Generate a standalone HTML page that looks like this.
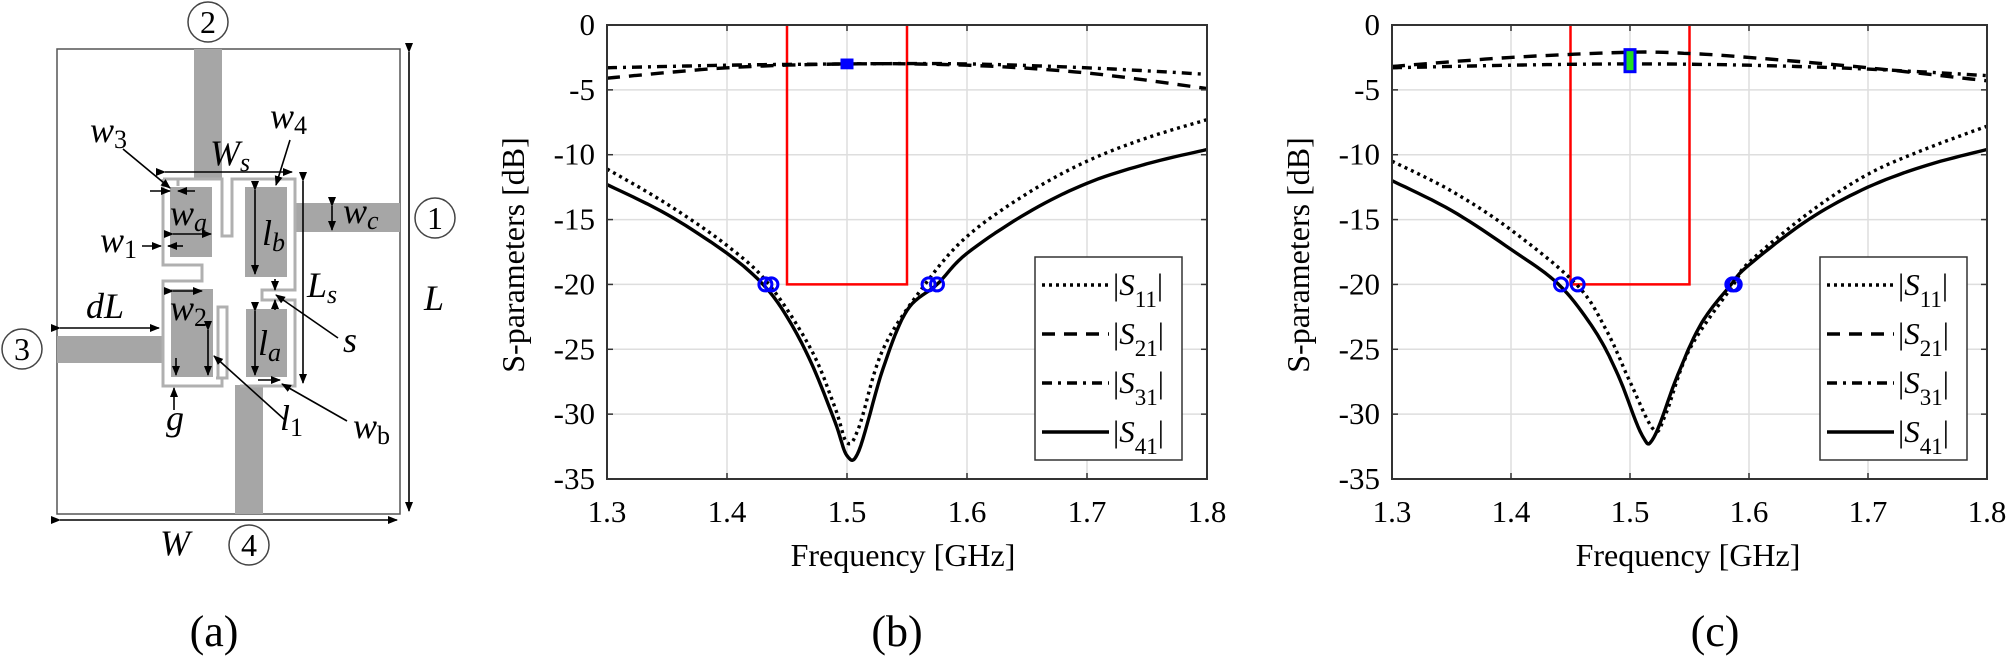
<!DOCTYPE html>
<html><head><meta charset="utf-8">
<style>
html,body{margin:0;padding:0;background:#fff;}
svg{display:block;}
svg, svg text, svg tspan{font-family:"Liberation Serif","Times New Roman","DejaVu Serif",serif;}
text{fill:#000;}
.it{font-style:italic;}
</style></head>
<body>
<svg id="s" width="2006" height="666" viewBox="0 0 2006 666" xmlns="http://www.w3.org/2000/svg" font-family="Liberation Serif, Times New Roman, serif">
<defs>
<marker id="ah" markerWidth="10" markerHeight="10" refX="9" refY="5" orient="auto" markerUnits="userSpaceOnUse">
<path d="M0,1 L10,5 L0,9 Z" fill="#000"/></marker>
</defs>
<g>
<rect x="57" y="49" width="343" height="465" fill="none" stroke="#555" stroke-width="1.5"/>
<rect x="194" y="49" width="28" height="130" fill="#a6a6a6"/>
<rect x="295" y="203" width="105" height="29" fill="#a6a6a6"/>
<rect x="57" y="336" width="105" height="27" fill="#a6a6a6"/>
<rect x="235" y="385" width="28" height="129" fill="#a6a6a6"/>
<g fill="none" stroke="#b0b0b0" stroke-width="3">
<path d="M163,179 L163,265 L202,265 L202,281 L163,281 L163,386 L222,386 L222,378 L216,378"/>
<path d="M163,179 L178,179 L178,186 M178,179 L222,179 L222,236 L232,236 L232,179 L295,179 L295,290 L262,290 L262,300 L295,300 L295,386 L240,386"/>
<path d="M218,307 L218,378 L227,378 L227,307 Z"/>
</g>
<rect x="170" y="187" width="42" height="70" fill="#a6a6a6"/>
<rect x="245" y="187" width="42" height="90" fill="#a6a6a6"/>
<rect x="171" y="289" width="42" height="88" fill="#a6a6a6"/>
<rect x="246" y="309" width="41" height="68" fill="#a6a6a6"/>
<g stroke="#000" stroke-width="1.6" fill="none">
<line x1="409" y1="52" x2="409" y2="511" marker-end="url(#ah)" marker-start="url(#ah)"/>
<line x1="60" y1="520" x2="397" y2="520" marker-end="url(#ah)" marker-start="url(#ah)"/>
<line x1="165" y1="172" x2="292" y2="172" marker-end="url(#ah)" marker-start="url(#ah)"/>
<line x1="303" y1="181" x2="303" y2="383" marker-end="url(#ah)" marker-start="url(#ah)"/>
<line x1="60" y1="328" x2="159" y2="328" marker-end="url(#ah)" marker-start="url(#ah)"/>
<line x1="123" y1="149" x2="170" y2="188" marker-end="url(#ah)"/>
<line x1="150" y1="191" x2="170" y2="191" marker-end="url(#ah)"/>
<line x1="195" y1="191" x2="178" y2="191" marker-end="url(#ah)"/>
<line x1="290" y1="140" x2="276" y2="185" marker-end="url(#ah)"/>
<line x1="173" y1="234" x2="211" y2="234" marker-end="url(#ah)" marker-start="url(#ah)"/>
<line x1="142" y1="246" x2="161" y2="246" marker-end="url(#ah)"/>
<line x1="183" y1="246" x2="168" y2="246" marker-end="url(#ah)"/>
<line x1="255" y1="190" x2="255" y2="274" marker-end="url(#ah)" marker-start="url(#ah)"/>
<line x1="332" y1="206" x2="332" y2="230" marker-end="url(#ah)" marker-start="url(#ah)"/>
<line x1="173" y1="291" x2="202" y2="291" marker-end="url(#ah)" marker-start="url(#ah)"/>
<line x1="275" y1="279" x2="275" y2="290" marker-end="url(#ah)"/>
<line x1="275" y1="310" x2="275" y2="300" marker-end="url(#ah)"/>
<line x1="338" y1="338" x2="276" y2="295" marker-end="url(#ah)"/>
<line x1="255" y1="311" x2="255" y2="375" marker-end="url(#ah)" marker-start="url(#ah)"/>
<line x1="208" y1="330" x2="208" y2="375" marker-end="url(#ah)" marker-start="url(#ah)"/>
<line x1="176" y1="358" x2="176" y2="375" marker-end="url(#ah)"/>
<line x1="285" y1="420" x2="214" y2="356" marker-end="url(#ah)"/>
<line x1="174" y1="410" x2="174" y2="388" marker-end="url(#ah)"/>
<line x1="347" y1="421" x2="282" y2="384" marker-end="url(#ah)"/>
<line x1="258" y1="380" x2="280" y2="380" marker-end="url(#ah)"/>
</g>
<g fill="none" stroke="#444" stroke-width="1.5">
<circle cx="208" cy="22" r="20"/><circle cx="435" cy="218" r="20"/>
<circle cx="22" cy="349" r="20"/><circle cx="249" cy="545" r="20"/>
</g>
<g font-size="32" text-anchor="middle">
<text x="208" y="33" fill="#444">2</text><text x="435" y="229" fill="#444">1</text>
<text x="22" y="360" fill="#444">3</text><text x="249" y="556" fill="#444">4</text>
</g>
<g font-size="36">
<text x="424" y="310" class="it">L</text>
<text x="160" y="555" class="it">W</text>
<text x="210" y="165" class="it">W<tspan font-size="26" dy="6">s</tspan></text>
<text x="90" y="142" class="it">w<tspan font-size="26" dy="6" font-style="normal">3</tspan></text>
<text x="270" y="128" class="it">w<tspan font-size="26" dy="6" font-style="normal">4</tspan></text>
<text x="170" y="225" class="it">w<tspan font-size="26" dy="6">a</tspan></text>
<text x="100" y="252" class="it">w<tspan font-size="26" dy="6" font-style="normal">1</tspan></text>
<text x="262" y="245" class="it">l<tspan font-size="26" dy="6">b</tspan></text>
<text x="343" y="223" class="it">w<tspan font-size="26" dy="6">c</tspan></text>
<text x="307" y="297" class="it">L<tspan font-size="26" dy="6">s</tspan></text>
<text x="86" y="318" class="it">dL</text>
<text x="170" y="320" class="it">w<tspan font-size="26" dy="6" font-style="normal">2</tspan></text>
<text x="343" y="352" class="it">s</text>
<text x="258" y="355" class="it">l<tspan font-size="26" dy="6">a</tspan></text>
<text x="280" y="430" class="it">l<tspan font-size="26" dy="6" font-style="normal">1</tspan></text>
<text x="166" y="430" class="it">g</text>
<text x="353" y="438" class="it">w<tspan font-size="26" dy="6" font-style="normal">b</tspan></text>
</g>
<text x="214" y="646" font-size="44" text-anchor="middle">(a)</text>
</g>
<g id="pb"></g>
<g id="pc"></g>
</svg>
<script>
var NS="http://www.w3.org/2000/svg";
var FF="Liberation Serif, Times New Roman, serif";
function el(p,t,a,txt){var e=document.createElementNS(NS,t);for(var k in a)e.setAttribute(k,a[k]);if(t=='text')e.setAttribute('font-family',FF);if(txt!==undefined)e.textContent=txt;p.appendChild(e);return e;}
function interp(d){
 var out=[];for(var i=0;i<d.length-1;i++){var p0=d[Math.max(i-1,0)],p1=d[i],p2=d[i+1],p3=d[Math.min(i+2,d.length-1)];
 for(var t=0;t<1;t+=0.1){var t2=t*t,t3=t2*t;
  var f=function(a,b,c,e){return 0.5*((2*b)+(-a+c)*t+(2*a-5*b+4*c-e)*t2+(-a+3*b-3*c+e)*t3);};
  out.push([f(p0[0],p1[0],p2[0],p3[0]),f(p0[1],p1[1],p2[1],p3[1])]);}}
 out.push(d[d.length-1]);return out;}
function panel(g,x0,xw,lab,label,fx,ylx,data,mk,leg){
 var y0=25,y1=479;
 var X=function(f){return x0+(f-1.3)/0.5*xw;},Y=function(v){return y0+(-v)/35*(y1-y0);};
 for(var i=1;i<5;i++){var xx=X(1.3+i*0.1);el(g,'line',{x1:xx,x2:xx,y1:y0,y2:y1,stroke:'#dedede','stroke-width':1.5});}
 for(var j=1;j<7;j++){var yy=Y(-5*j);el(g,'line',{x1:x0,x2:x0+xw,y1:yy,y2:yy,stroke:'#dedede','stroke-width':1.5});}
 el(g,'polyline',{points:X(1.45)+','+y0+' '+X(1.45)+','+Y(-20)+' '+X(1.55)+','+Y(-20)+' '+X(1.55)+','+y0,fill:'none',stroke:'#ff0000','stroke-width':2.5});
 var styles={s11:{'stroke-dasharray':'3,4','stroke-width':3.4},s21:{'stroke-dasharray':'13,9','stroke-width':3.4},s31:{'stroke-dasharray':'10,6,3,6','stroke-width':3.4},s41:{'stroke-width':3.4}};
 ['s21','s31','s11','s41'].forEach(function(k){
  var pts=interp(data[k]).map(function(p){return X(p[0]).toFixed(1)+','+Y(p[1]).toFixed(1);}).join(' ');
  var a={points:pts,fill:'none',stroke:'#000','stroke-linejoin':'round'};for(var q in styles[k])a[q]=styles[k][q];el(g,'polyline',a);});
 mk.circles.forEach(function(f){el(g,'circle',{cx:X(f),cy:Y(-20),r:6.5,fill:'none',stroke:'#0000ff','stroke-width':3});});
 el(g,'rect',{x:X(1.5)-5,y:Y(mk.top),width:10,height:Y(mk.bot)-Y(mk.top),fill:mk.fill,stroke:'#0000ff','stroke-width':3});
 el(g,'rect',{x:x0,y:y0,width:xw,height:y1-y0,fill:'none',stroke:'#333','stroke-width':2});
 for(var i=0;i<=5;i++){var xx=X(1.3+i*0.1);el(g,'line',{x1:xx,x2:xx,y1:y1,y2:y1-6,stroke:'#333','stroke-width':1.5});el(g,'line',{x1:xx,x2:xx,y1:y0,y2:y0+6,stroke:'#333','stroke-width':1.5});
  el(g,'text',{x:xx,y:522,'font-size':31,'text-anchor':'middle'},(1.3+i*0.1).toFixed(1));}
 for(var j=0;j<=7;j++){var yy=Y(-5*j);el(g,'line',{x1:x0,x2:x0+6,y1:yy,y2:yy,stroke:'#333','stroke-width':1.5});el(g,'line',{x1:x0+xw,x2:x0+xw-6,y1:yy,y2:yy,stroke:'#333','stroke-width':1.5});
  el(g,'text',{x:x0-12,y:yy+10,'font-size':31,'text-anchor':'end'},j==0?'0':'-'+(5*j));}
 el(g,'text',{x:fx,y:566,'font-size':32,'text-anchor':'middle'},'Frequency [GHz]');
 el(g,'text',{x:0,y:0,'font-size':32,'text-anchor':'middle',transform:'translate('+ylx+',255) rotate(-90)'},'S-parameters [dB]');
 el(g,'text',{x:lab,y:646,'font-size':44,'text-anchor':'middle'},label);
 el(g,'rect',{x:leg,y:257,width:147,height:203,fill:'#fff',stroke:'#333','stroke-width':1.5});
 var names=[['s11','11'],['s21','21'],['s31','31'],['s41','41']];
 names.forEach(function(n,i){var yy=285+i*49;var a={x1:leg+7,x2:leg+74,y1:yy,y2:yy,stroke:'#000'};for(var q in styles[n[0]])a[q]=styles[n[0]][q];el(g,'line',a);
  var t=el(g,'text',{x:leg+78,y:yy+10,'font-size':31});
  t.appendChild(document.createTextNode('|'));el(t,'tspan',{'font-style':'italic'},'S');el(t,'tspan',{'font-size':23,dy:12},n[1]);el(t,'tspan',{dy:-12},'|');});
}
panel(document.getElementById('pb'),607,600,897,'(b)',903,524,{
 s41:[[1.3,-12.3],[1.35,-14.6],[1.4,-17.6],[1.43,-20],[1.45,-22.5],[1.47,-26],[1.49,-30.6],[1.5,-33.2],[1.51,-32.8],[1.53,-26.5],[1.55,-22],[1.575,-20],[1.6,-17.6],[1.65,-14.5],[1.7,-12.2],[1.75,-10.7],[1.8,-9.6]],
 s11:[[1.3,-11.1],[1.35,-13.8],[1.4,-17],[1.435,-20],[1.47,-25],[1.49,-29.5],[1.5,-32.2],[1.51,-31],[1.53,-25],[1.565,-20],[1.6,-16.3],[1.65,-13],[1.7,-10.5],[1.75,-8.7],[1.8,-7.3]],
 s21:[[1.3,-4.1],[1.4,-3.3],[1.5,-3.0],[1.6,-3.1],[1.7,-3.7],[1.8,-4.9]],
 s31:[[1.3,-3.3],[1.4,-3.1],[1.5,-3.0],[1.6,-3.0],[1.7,-3.3],[1.8,-3.8]]},
 {circles:[1.432,1.437,1.568,1.575],top:-2.7,bot:-3.3,fill:'#0000ff'},1035);
panel(document.getElementById('pc'),1392,595,1715,'(c)',1688,1309,{
 s41:[[1.3,-12],[1.35,-14.3],[1.4,-17.3],[1.44,-20],[1.47,-23.5],[1.49,-27],[1.51,-31.6],[1.52,-31.8],[1.54,-27],[1.56,-23],[1.585,-20],[1.6,-18.5],[1.65,-15],[1.7,-12.5],[1.75,-10.8],[1.8,-9.6]],
 s11:[[1.3,-10.5],[1.35,-12.8],[1.4,-15.8],[1.455,-20],[1.48,-23.5],[1.5,-27.5],[1.52,-31.2],[1.53,-30],[1.55,-25],[1.587,-20],[1.6,-18.3],[1.65,-14.5],[1.7,-11.5],[1.75,-9.5],[1.8,-7.8]],
 s21:[[1.3,-3.2],[1.4,-2.5],[1.5,-2.1],[1.55,-2.2],[1.6,-2.5],[1.7,-3.3],[1.8,-4.3]],
 s31:[[1.3,-3.3],[1.4,-3.1],[1.5,-3.0],[1.6,-3.1],[1.7,-3.4],[1.8,-3.9]]},
 {circles:[1.442,1.456,1.586,1.588],top:-1.9,bot:-3.6,fill:'#22dd22'},1820);
</script>
</body></html>
